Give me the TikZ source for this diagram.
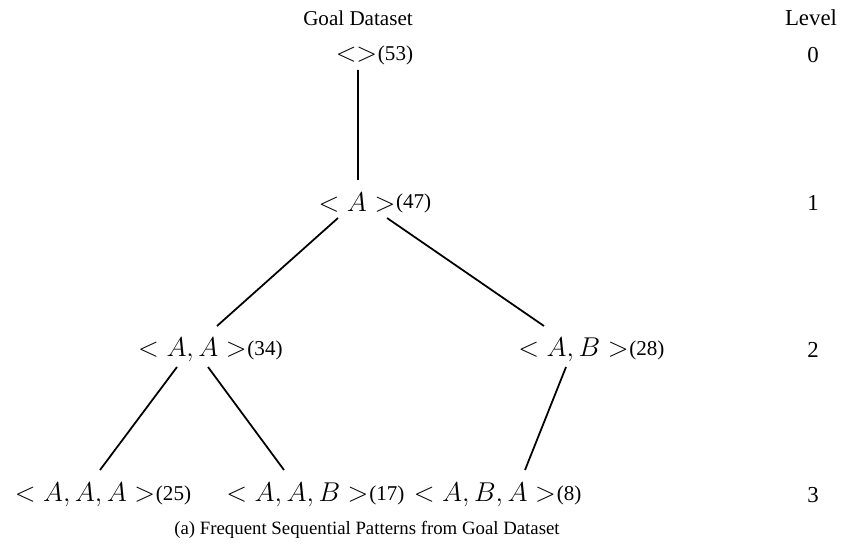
\RequirePackage{fix-cm}
\documentclass[tikz,border=0pt]{standalone}
\usepackage{fontspec}
\setmainfont{Liberation Serif}
\usepackage{tikz}
\usetikzlibrary{positioning}

\newcommand{\cnt}[1]{\raisebox{-1pt}{\fontsize{12}{14}\selectfont(#1)}}

\begin{document}
\begin{tikzpicture}[x=0.02cm, y=-0.02cm, font=\fontsize{12}{14}\selectfont]
    \tikzset{
        pat/.style={inner sep=0pt, font=\fontsize{15.5}{17}\selectfont},
        count/.style={anchor=west, inner sep=0pt},
        lvl/.style={inner sep=0pt, font=\fontsize{13}{15}\selectfont},
        edge/.style={line width=1pt, black}
    }
    \useasboundingbox (0,0) rectangle (844,550);

    % headings
    \node[inner sep=0pt] (title) at (358,18) {Goal Dataset};
    \node[lvl] (levhead) at (811,18) {Level};

    % patterns with their counts
    \node[pat] (p0) at (356.5,55) {$<>$};
    \node[count] (c0) at (p0.east) {\cnt{53}};

    \node[pat] (p1) at (357,203) {$<A>$};
    \node[count] (c1) at (p1.east) {\cnt{47}};

    \node[pat] (p2a) at (192.5,350) {$<A,A>$};
    \node[count] (c2a) at (p2a.east) {\cnt{34}};
    \node[pat] (p2b) at (573.5,350) {$<A,B>$};
    \node[count] (c2b) at (p2b.east) {\cnt{28}};

    \node[pat] (p3a) at (85,495) {$<A,A,A>$};
    \node[count] (c3a) at (p3a.east) {\cnt{25}};
    \node[pat] (p3b) at (297.5,495) {$<A,A,B>$};
    \node[count] (c3b) at (p3b.east) {\cnt{17}};
    \node[pat] (p3c) at (485,495) {$<A,B,A>$};
    \node[count] (c3c) at (p3c.east) {\cnt{8}};

    % level numbers
    \foreach \l/\y in {0/55, 1/203, 2/350, 3/495}
        \node[lvl] (lev\l) at (813,\y) {\l};

    % tree edges
    \draw[edge] ([shift={(1.5,15)}]p0.center) -- ([shift={(1,-23)}]p1.center);
    \draw[edge] ([shift={(-19,15)}]p1.center) -- ([shift={(24.5,-24)}]p2a.center);
    \draw[edge] ([shift={(30,15)}]p1.center) -- ([shift={(-29.5,-24)}]p2b.center);
    \draw[edge] ([shift={(-15.5,17)}]p2a.center) -- ([shift={(15,-25)}]p3a.center);
    \draw[edge] ([shift={(15.5,17)}]p2a.center) -- ([shift={(-13.5,-25)}]p3b.center);
    \draw[edge] ([shift={(-7.5,17)}]p2b.center) -- ([shift={(40,-25)}]p3c.center);

    % caption
    \node[inner sep=0pt, font=\fontsize{10.7}{13}\selectfont] (cap) at (367,530) {(a) Frequent Sequential Patterns from Goal Dataset};
\end{tikzpicture}
\end{document}
